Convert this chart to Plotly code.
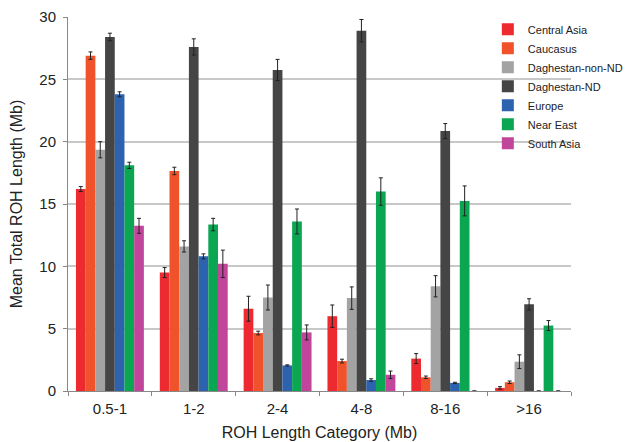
import plotly.graph_objects as go

categories = ["0.5-1", "1-2", "2-4", "4-8", "8-16", ">16"]

central_asia = [16.2, 9.5, 6.6, 6.0, 2.6, 0.25]
central_asia_err = [0.2, 0.4, 1.0, 0.9, 0.4, 0.1]
caucasus = [26.9, 17.65, 4.65, 2.4, 1.1, 0.7]
caucasus_err = [0.3, 0.3, 0.15, 0.15, 0.1, 0.1]
dag_non_nd = [19.35, 11.6, 7.5, 7.45, 8.4, 2.35]
dag_non_nd_err = [0.65, 0.45, 1.0, 0.9, 0.85, 0.55]
dag_nd = [28.4, 27.6, 25.75, 28.9, 20.85, 6.95]
dag_nd_err = [0.3, 0.65, 0.85, 0.9, 0.6, 0.45]
europe = [23.8, 10.8, 2.05, 0.88, 0.65, 0]
europe_err = [0.2, 0.2, 0.05, 0.1, 0.05, 0]
near_east = [18.1, 13.35, 13.6, 16.0, 15.25, 5.25]
near_east_err = [0.25, 0.5, 1.0, 1.1, 1.2, 0.4]
south_asia = [13.25, 10.2, 4.7, 1.3, 0, 0]
south_asia_err = [0.6, 1.1, 0.6, 0.3, 0, 0]

series = [
    ("Central Asia", central_asia, central_asia_err, "#EC2A30"),
    ("Caucasus", caucasus, caucasus_err, "#F0532B"),
    ("Daghestan-non-ND", dag_non_nd, dag_non_nd_err, "#A3A3A3"),
    ("Daghestan-ND", dag_nd, dag_nd_err, "#454545"),
    ("Europe", europe, europe_err, "#2D62AE"),
    ("Near East", near_east, near_east_err, "#0BA651"),
    ("South Asia", south_asia, south_asia_err, "#C1459B"),
]

fig = go.Figure()
for name, vals, errs, color in series:
    fig.add_trace(go.Bar(
        name=name, x=categories, y=vals, marker_color=color,
        marker_line_width=0,
        error_y=dict(type="data", array=errs, visible=True,
                     color="#222222", thickness=1, width=2),
    ))

fig.update_layout(
    width=650, height=442,
    margin=dict(l=60, r=87, t=9, b=59, autoexpand=False),
    paper_bgcolor="white", plot_bgcolor="white",
    barmode="group", bargap=0.19, bargroupgap=0,
    font=dict(family="Liberation Sans, Arial, sans-serif", color="#222222", size=15),
    legend=dict(x=1.113, y=1.006, xanchor="right", yanchor="top",
                bgcolor="rgba(0,0,0,0)", font=dict(size=11),
                tracegroupgap=0, itemwidth=30),
    showlegend=True,
)
fig.update_xaxes(
    automargin=False,
    showline=True, linecolor="#888888", linewidth=1,
    ticks="outside", tickson="boundaries", ticklen=4, tickcolor="#888888",
    tickfont=dict(size=15), ticklabelstandoff=4,
    title=dict(text="ROH Length Category (Mb)", font=dict(size=16), standoff=10),
)
fig.update_yaxes(
    automargin=False,
    range=[0, 30], dtick=5,
    showgrid=True, gridcolor="#C8C8C8", gridwidth=1.5,
    showline=True, linecolor="#888888", linewidth=1,
    ticks="outside", ticklen=4, tickcolor="#888888",
    tickfont=dict(size=15), ticklabelstandoff=4,
    title=dict(text="Mean Total ROH Length (Mb)", font=dict(size=16), standoff=12),
    zeroline=False,
)

fig.write_html("out.html")
